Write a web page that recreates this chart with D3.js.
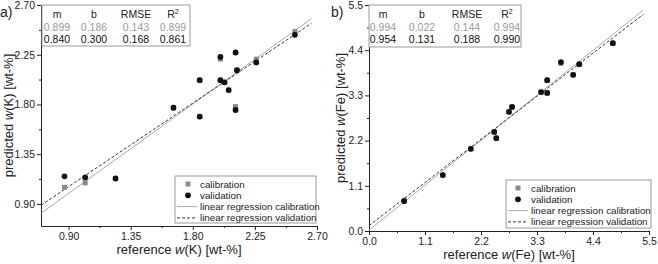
<!DOCTYPE html>
<html>
<head>
<meta charset="utf-8">
<script src="https://cdn.jsdelivr.net/npm/d3@7"></script>
<style>
  body { margin: 0; background: #fff; }
  svg { display: block; font-family: "Liberation Sans", Arial, sans-serif; }
</style>
</head>
<body>
<svg id="chart" width="658" height="264"></svg>
<script>
// panel a) potassium
const kReference = [2.54, 2.26, 2.11, 2.00, 2.12, 1.85, 2.00, 2.03, 2.06, 1.66, 1.85, 2.11, 0.87, 1.02, 1.24];
const kValidation = [2.43, 2.18, 2.27, 2.23, 2.11, 2.02, 2.02, 2.00, 1.93, 1.77, 1.69, 1.75, 1.15, 1.14, 1.13];
const kCalibration = [2.46, 2.21, 2.27, 2.21, 2.11, 2.02, 2.02, 2.00, 1.93, 1.77, 1.69, 1.78, 1.05, 1.09, 1.13];
const kTicks = [0.90, 1.35, 1.80, 2.25, 2.70];
const kCalStats = ["0.899", "0.186", "0.143", "0.899"];
const kValStats = ["0.840", "0.300", "0.168", "0.861"];
const kCalFit = [0.899, 0.186];
const kValFit = [0.840, 0.300];

// panel b) iron
const feReference = [4.79, 3.77, 4.13, 4.01, 3.50, 3.38, 3.50, 2.81, 2.75, 2.46, 2.50, 2.00, 1.45, 0.69];
const feValidation = [4.57, 4.11, 4.06, 3.80, 3.67, 3.38, 3.36, 3.02, 2.90, 2.41, 2.26, 2.00, 1.36, 0.73];
const feCalibration = [4.57, 4.08, 4.06, 3.80, 3.67, 3.38, 3.36, 3.02, 2.90, 2.41, 2.26, 2.00, 1.36, 0.73];
const feTicks = [0.0, 1.1, 2.2, 3.3, 4.4, 5.5];
const feCalStats = ["0.994", "0.022", "0.144", "0.994"];
const feValStats = ["0.954", "0.131", "0.188", "0.990"];
const feCalFit = [0.994, 0.022];
const feValFit = [0.954, 0.131];

const statHeaders = ["m", "b", "RMSE", "R"];
const legendLabels = ["calibration", "validation", "linear regression calibration", "linear regression validation"];

const svg = d3.select("#chart");

function drawPanel(p) {
    const x = d3.scaleLinear().domain(p.domain).range([p.left, p.right]);
    const y = d3.scaleLinear().domain(p.domain).range([p.bottom, p.top]);
    const fmt = d3.format(p.fmt);
    const step = p.ticks[1] - p.ticks[0];
    const minor = [];
    for (let i = 0; i < p.ticks.length - 1; i++) minor.push(p.ticks[i] + step / 2);

    const g = svg.append("g");

    // axes
    g.append("g")
        .attr("transform", `translate(0,${p.bottom})`)
        .call(d3.axisBottom(x).tickValues(p.ticks).tickFormat(fmt).tickSize(4).tickSizeOuter(0).tickPadding(3))
        .call(a => a.select(".domain").attr("stroke", "#222"));
    g.append("g")
        .attr("transform", `translate(0,${p.bottom})`)
        .call(d3.axisBottom(x).tickValues(minor).tickFormat("").tickSize(2).tickSizeOuter(0))
        .call(a => a.select(".domain").remove());
    g.append("g")
        .attr("transform", `translate(${p.left},0)`)
        .call(d3.axisLeft(y).tickValues(p.ticks).tickFormat(fmt).tickSize(4).tickSizeOuter(0).tickPadding(2))
        .call(a => a.select(".domain").attr("stroke", "#222"));
    g.append("g")
        .attr("transform", `translate(${p.left},0)`)
        .call(d3.axisLeft(y).tickValues(minor).tickFormat("").tickSize(2).tickSizeOuter(0))
        .call(a => a.select(".domain").remove());
    g.selectAll(".tick text").attr("font-size", 10.5).attr("fill", "#222")
        .attr("font-family", "'Liberation Sans', Arial, sans-serif");
    g.selectAll(".tick line").attr("stroke", "#222");

    // axis titles
    const xt = g.append("text")
        .attr("x", (p.left + p.right) / 2).attr("y", p.xTitleY)
        .attr("text-anchor", "middle").attr("font-size", 13).attr("fill", "#222");
    xt.append("tspan").text("reference ");
    xt.append("tspan").attr("font-style", "italic").text("w");
    xt.append("tspan").text(`(${p.element}) [wt-%]`);

    const yt = g.append("text")
        .attr("transform", `translate(${p.yTitleX},${(p.top + p.bottom) / 2}) rotate(-90)`)
        .attr("text-anchor", "middle").attr("font-size", 13).attr("fill", "#222");
    yt.append("tspan").text("predicted ");
    yt.append("tspan").attr("font-style", "italic").text("w");
    yt.append("tspan").text(`(${p.element}) [wt-%]`);

    g.append("text")
        .attr("x", p.letterX).attr("y", 17)
        .attr("font-size", 14).attr("fill", "#222").text(p.letter);

    // regression lines
    const x0 = p.domain[0], x1 = p.domain[1];
    const line = d3.line().x(d => x(d[0])).y(d => y(d[1]));
    const lineEnd = x1 - 0.02 * (x1 - x0);
    g.append("path")
        .attr("d", line([[x0, p.calFit[0] * x0 + p.calFit[1]], [lineEnd, p.calFit[0] * lineEnd + p.calFit[1]]]))
        .attr("stroke", "#aaa").attr("stroke-width", 1).attr("fill", "none");
    g.append("path")
        .attr("d", line([[x0, p.valFit[0] * x0 + p.valFit[1]], [lineEnd, p.valFit[0] * lineEnd + p.valFit[1]]]))
        .attr("stroke", "#333").attr("stroke-width", 1).attr("stroke-dasharray", "3,2").attr("fill", "none");

    // points
    g.selectAll(".cal").data(p.ref.map((r, i) => [r, p.cal[i]]))
        .enter().append("rect")
        .attr("x", d => x(d[0]) - 2.5).attr("y", d => y(d[1]) - 2.5)
        .attr("width", 5).attr("height", 5).attr("fill", "#8a8a8a");
    g.selectAll(".val").data(p.ref.map((r, i) => [r, p.val[i]]))
        .enter().append("circle")
        .attr("cx", d => x(d[0])).attr("cy", d => y(d[1])).attr("r", 2.9).attr("fill", "#111");

    // statistics table
    const t = p.table;
    g.append("rect")
        .attr("x", t.x).attr("y", t.y).attr("width", t.w).attr("height", t.h)
        .attr("fill", "#fff").attr("stroke", "#999");
    const rows = [[statHeaders, "#222"], [p.calStats, "#999"], [p.valStats, "#111"]];
    rows.forEach((row, ri) => {
        row[0].forEach((s, ci) => {
            const tx = g.append("text")
                .attr("x", t.x + t.cols[ci]).attr("y", t.y + 13 + ri * 12.5)
                .attr("text-anchor", "middle").attr("font-size", 10.5).attr("fill", row[1]).text(s);
            if (ri === 0 && ci === 3) tx.append("tspan").attr("font-size", 7).attr("dy", -4).text("2");
        });
    });

    // legend
    const l = p.legend;
    g.append("rect")
        .attr("x", l.x).attr("y", l.y).attr("width", l.w).attr("height", l.h)
        .attr("fill", "#fff").attr("stroke", "#999");
    const ly = i => l.y + 8 + i * 11.3;
    g.append("rect").attr("x", l.mx - 2.5).attr("y", ly(0) - 2.5).attr("width", 5).attr("height", 5).attr("fill", "#8a8a8a");
    g.append("circle").attr("cx", l.mx).attr("cy", ly(1)).attr("r", 2.9).attr("fill", "#111");
    g.append("line").attr("x1", l.x + 2).attr("x2", l.tx - 3).attr("y1", ly(2)).attr("y2", ly(2))
        .attr("stroke", "#aaa");
    g.append("line").attr("x1", l.x + 2).attr("x2", l.tx - 3).attr("y1", ly(3)).attr("y2", ly(3))
        .attr("stroke", "#333").attr("stroke-dasharray", "3,2");
    legendLabels.forEach((s, i) => {
        g.append("text").attr("x", l.tx).attr("y", ly(i) + 3.5)
            .attr("font-size", 9.8).attr("fill", "#222").text(s);
    });
}

drawPanel({
    letter: "a)", letterX: 0, element: "K", fmt: ".2f",
    domain: [0.70, 2.70], ticks: kTicks,
    left: 41, right: 317, top: 5, bottom: 226,
    xTitleY: 254, yTitleX: 13,
    ref: kReference, val: kValidation, cal: kCalibration,
    calFit: kCalFit, valFit: kValFit,
    calStats: kCalStats, valStats: kValStats,
    table: { x: 42, y: 5, w: 148, h: 41, cols: [15, 52, 94, 131] },
    legend: { x: 175, y: 176, w: 141, h: 47, mx: 188, tx: 200 }
});

drawPanel({
    letter: "b)", letterX: 331, element: "Fe", fmt: ".1f",
    domain: [0, 5.5], ticks: feTicks,
    left: 369, right: 649, top: 5, bottom: 231,
    xTitleY: 259, yTitleX: 345,
    ref: feReference, val: feValidation, cal: feCalibration,
    calFit: feCalFit, valFit: feValFit,
    calStats: feCalStats, valStats: feValStats,
    table: { x: 369, y: 5, w: 152, h: 42, cols: [14, 53, 98, 138] },
    legend: { x: 506, y: 180, w: 145, h: 48, mx: 518, tx: 531 }
});
</script>
</body>
</html>
